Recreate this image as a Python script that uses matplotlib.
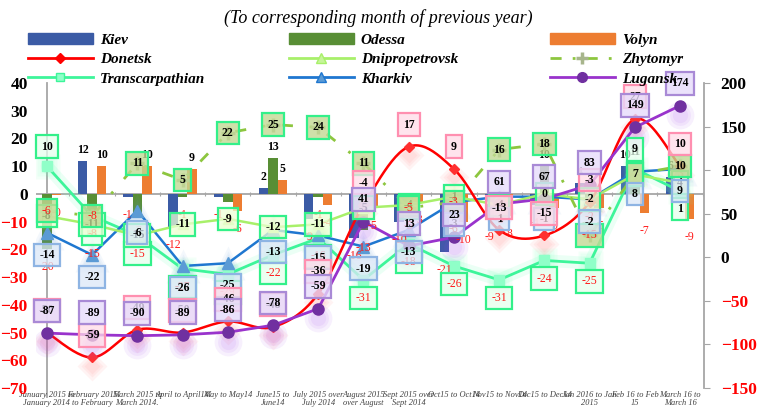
import numpy as np
import matplotlib.pyplot as plt
from matplotlib import transforms
from matplotlib.lines import Line2D
from matplotlib.patches import Patch

plt.rcParams['font.family'] = ['Liberation Serif', 'DejaVu Serif']

months = ["January 2015 to\nJanuary 2014", "February 2015\nto February\n2014",
          "March 2015 to\nMarch 2014.", "April to April14", "May to May14",
          "June15 to\nJune14", "July 2015 over\nJuly 2014", "August 2015\nover August\n2014",
          "Sept 2015 over\nSept 2014", "Oct15 to Oct14", "Nov15 to Nov14", "Dec15 to Dec14",
          "Jan 2016 to Jan\n2015", "Feb 16 to Feb\n15", "March 16 to\nMarch 16"]

kiev = [np.nan, 12, -1, -12, -1, 2, -9, -16, -10, -21, -9, -4, 4, 10, 6]
odessa = [-20, -15, -7, -1, -3, 13, -1, -13, -5, -6, -3, 10, -2, 11, 3]
volyn = [-0.3, 10, 10, 9, -6, 5, -4, -5, -3, -10, -8, -5, -5, -7, -9]
donetsk = [-50, -59, -49, -50, -46, -48, -36, -4, 17, 9, -13, -15, -3, 27, 10]
dnipro = [-8, -11, -15, -11, -9, -12, -11, -5, -4, -1, -4, 0, -2, 7, 4]
zhytomyr = [-6, -8, 11, 5, 22, 25, 24, 11, -5, -3, 16, 18, -15, 7, 10]
transcarp = [10, -8, -15, -27, -29, -22, -16, -31, -18, -26, -31, -24, -25, 9, 1]
kharkiv = [-14, -22, -6, -26, -25, -13, -15, -19, -13, -3, -1, -1, -2, 8, 9]
lugansk = [-87, -89, -90, -89, -86, -78, -59, 41, 13, 23, 61, 67, 83, 149, 174]

x = np.arange(len(months))

fig = plt.figure(figsize=(7.57, 4.07), dpi=100)
ax = fig.add_axes([0.0476, 0.0467, 0.8824, 0.7494])
ax2 = ax.twinx()


def catmull(xs, ys, n=24):
    pts = np.column_stack([xs, ys]).astype(float)
    p = np.vstack([pts[0], pts, pts[-1]])
    t = np.linspace(0, 1, n, endpoint=False)[:, None]
    segs = []
    for i in range(1, len(p) - 2):
        p0, p1, p2, p3 = p[i - 1], p[i], p[i + 1], p[i + 2]
        segs.append(0.5 * (2 * p1 + (-p0 + p2) * t + (2 * p0 - 5 * p1 + 4 * p2 - p3) * t ** 2
                           + (-p0 + 3 * p1 - 3 * p2 + p3) * t ** 3))
    segs.append(pts[-1:])
    return np.vstack(segs)


def glow(axis, xs, ys, marker, color, sizes, alpha, dy=0, z=3):
    # soft halo: several translucent markers of growing size
    tr = transforms.offset_copy(axis.transData, fig=fig, x=0, y=dy, units='points')
    for s in sizes:
        axis.plot(xs, ys, ls='none', marker=marker, ms=s, color=color, mec='none',
                  alpha=alpha, transform=tr, zorder=z)


# bars
w = 0.21
ax.bar(x - w, kiev, w, color='#3B5BA5', zorder=2)
ax.bar(x, odessa, w, color='#588E35', zorder=2)
ax.bar(x + w, volyn, w, color='#ED7D31', zorder=2)

# axis lines
ax.axhline(0, color='#A6A6A6', lw=1.3, zorder=1)
ax.axvline(0, color='#A6A6A6', lw=1.3, zorder=1, ymin=-0.03, clip_on=False)
ax.vlines(np.arange(0.5, 15, 1), -0.6, 0.6, color='#A6A6A6', lw=0.8, zorder=1)

# Transcarpathian
ax.plot(x, transcarp, color='#7DFFC0', lw=9, alpha=0.15, zorder=3, solid_capstyle='round')
ax.plot(x, transcarp, color='#3DF59A', lw=2, zorder=4)
glow(ax, x, transcarp, 's', '#66FFB0', [18, 14, 10], 0.08)
ax.plot(x, transcarp, ls='none', marker='s', ms=7, color='#8FFFC8', mec='#8FFFC8', zorder=5)

# Kharkiv
ax.plot(x, kharkiv, color='#1F77D0', lw=1.8, zorder=4)
glow(ax, x, kharkiv, '^', '#5B9BD5', [24, 18, 13], 0.07)
ax.plot(x, kharkiv, ls='none', marker='^', ms=8, color='#5B9BD5', zorder=5)

# Dnipropetrovsk
ax.plot(x, dnipro, color='#A8F06A', lw=1.8, zorder=4)
glow(ax, x, dnipro, '^', '#CCFF66', [18, 13], 0.1)
ax.plot(x, dnipro, ls='none', marker='^', ms=7, color='#C6F59A', zorder=5)

# Zhytomyr
ax.plot(x, zhytomyr, color='#8DC63F', lw=2, ls=(0, (4, 6, 1, 6)), zorder=4)
ax.plot(x, zhytomyr, ls='none', marker='+', ms=10, mew=2.5, color='#A7B58C', zorder=5)

# Donetsk (smoothed line as in the source)
curve = catmull(x, donetsk)
glow(ax, x, donetsk, 'D', '#FF7070', [15, 11, 8], 0.08, dy=-6)
ax.plot(curve[:, 0], curve[:, 1], color='#FF0000', lw=1.8, zorder=4)
ax.plot(x, donetsk, ls='none', marker='D', ms=5, color='#FF3030', zorder=5)

# Lugansk on right axis
glow(ax2, x, lugansk, 'o', '#A040F0', [20, 15, 11], 0.08, dy=-7)
ax2.plot(x, lugansk, color='#9933CC', lw=2, zorder=4)
ax2.plot(x, lugansk, ls='none', marker='o', ms=8, color='#7030A0', zorder=5)


def labels(vals, trans, dy_fn, ec, fc, neg_red, bold_pos=True):
    for xi, v in zip(x, vals):
        if np.isnan(v):
            continue
        neg = v < 0
        col = '#FF1A1A' if (neg and neg_red) else 'black'
        wt = 'normal' if (neg and neg_red) else ('bold' if bold_pos else 'normal')
        ax2.annotate('%d' % round(v), xy=(xi, v), xycoords=trans,
                     xytext=(0, dy_fn(v)), textcoords='offset points',
                     ha='center', va='center', fontsize=8.5, color=col, fontweight=wt,
                     bbox=dict(boxstyle='square,pad=0.45', fc=fc, ec=ec, lw=1.6), zorder=10)


def bar_labels(vals, off):
    for xi, v in zip(x, vals):
        if np.isnan(v):
            continue
        txt = '%.0f' % v
        if v < 0:
            ax2.annotate(txt, xy=(xi + off, v), xycoords=ax.transData, xytext=(0, -13),
                         textcoords='offset points', ha='center', va='center',
                         fontsize=8.5, color='#FF1A1A', zorder=9)
        else:
            ax2.annotate(txt, xy=(xi + off, v), xycoords=ax.transData, xytext=(0, 8),
                         textcoords='offset points', ha='center', va='center',
                         fontsize=8.5, color='black', fontweight='bold', zorder=9)


bar_labels(kiev, -w)
bar_labels(odessa, 0)
bar_labels(volyn, w)

green_ec = '#33F08A'
labels(transcarp, ax.transData, lambda v: 14 if v >= 5 else -13, green_ec, (0.90, 1.0, 0.93, 0.75), True)
labels(dnipro, ax.transData, lambda v: 0, green_ec, (0.93, 1.0, 0.84, 0.75), False)
labels(zhytomyr, ax.transData, lambda v: 0, green_ec, (0.76, 0.85, 0.58, 0.8), True)
labels(kharkiv, ax.transData, lambda v: -16, '#8EB4E3', (0.86, 0.91, 0.97, 0.75), False)
labels(donetsk, ax.transData, lambda v: 16, '#FF8FB0', (1.0, 0.86, 0.91, 0.75), False)
labels(lugansk, ax2.transData, lambda v: 16, '#A98AD6', (0.90, 0.86, 0.98, 0.8), False)

# axes limits / ticks
ax.set_xlim(-0.24, 14.53)
ax.set_ylim(-70, 40)
ax2.set_ylim(-150, 200)
ax.set_yticks(np.arange(-70, 41, 10))
ax2.set_yticks(np.arange(-150, 201, 50))
ax.set_xticks(x)
ax.set_xticklabels(months, fontsize=6, style='italic', color='#404040', linespacing=1.0)
ax.tick_params(axis='x', length=0, pad=2)
ax.tick_params(axis='y', length=0, pad=6, labelsize=12.5)
ax2.tick_params(axis='y', length=4, color='#A6A6A6', pad=8, labelsize=12.5)
for lab, v in zip(ax.get_yticklabels(), ax.get_yticks()):
    lab.set_fontweight('bold')
    lab.set_color('red' if v < 0 else 'black')
for lab, v in zip(ax2.get_yticklabels(), ax2.get_yticks()):
    lab.set_fontweight('bold')
    lab.set_color('red' if v < 0 else 'black')

for s in ['top', 'left', 'bottom', 'right']:
    ax.spines[s].set_visible(False)
for s in ['top', 'left', 'bottom']:
    ax2.spines[s].set_visible(False)
ax2.spines['right'].set_color('#A6A6A6')
ax2.spines['right'].set_linewidth(1.3)

fig.text(0.5, 0.955, '(To corresponding month of previous year)', ha='center', va='center',
         fontsize=13, style='italic')

# legend in three columns
cols = [
    [(Patch(color='#3B5BA5'), 'Kiev'),
     (Line2D([], [], color='red', lw=2, marker='D', ms=5), 'Donetsk'),
     (Line2D([], [], color='#3DF59A', lw=2, marker='s', ms=6, mfc='#8FFFC8'), 'Transcarpathian')],
    [(Patch(color='#588E35'), 'Odessa'),
     (Line2D([], [], color='#A8F06A', lw=2, marker='^', ms=7, mfc='#C6F59A'), 'Dnipropetrovsk'),
     (Line2D([], [], color='#1F77D0', lw=2, marker='^', ms=7, mfc='#5B9BD5'), 'Kharkiv')],
    [(Patch(color='#ED7D31'), 'Volyn'),
     (Line2D([], [], color='#8DC63F', lw=2, ls=(0, (4, 4, 1, 4)), marker='+', ms=9, mew=2.5,
             mec='#A7B58C'), 'Zhytomyr'),
     (Line2D([], [], color='#9933CC', lw=2, marker='o', ms=7, mfc='#7030A0', mec='#7030A0'), 'Lugansk')],
]
for cx, col in zip([28, 289, 550], cols):
    fig.legend([h for h, _ in col], [t for _, t in col], loc='upper left',
               bbox_to_anchor=(cx / 757, 1 - 33 / 407), frameon=False, borderpad=0,
               borderaxespad=0, handlelength=4.25, handletextpad=0.45, labelspacing=0.38,
               prop=dict(family='Liberation Serif', weight='bold', style='italic', size=11))

fig.savefig('out.png', dpi=100)
